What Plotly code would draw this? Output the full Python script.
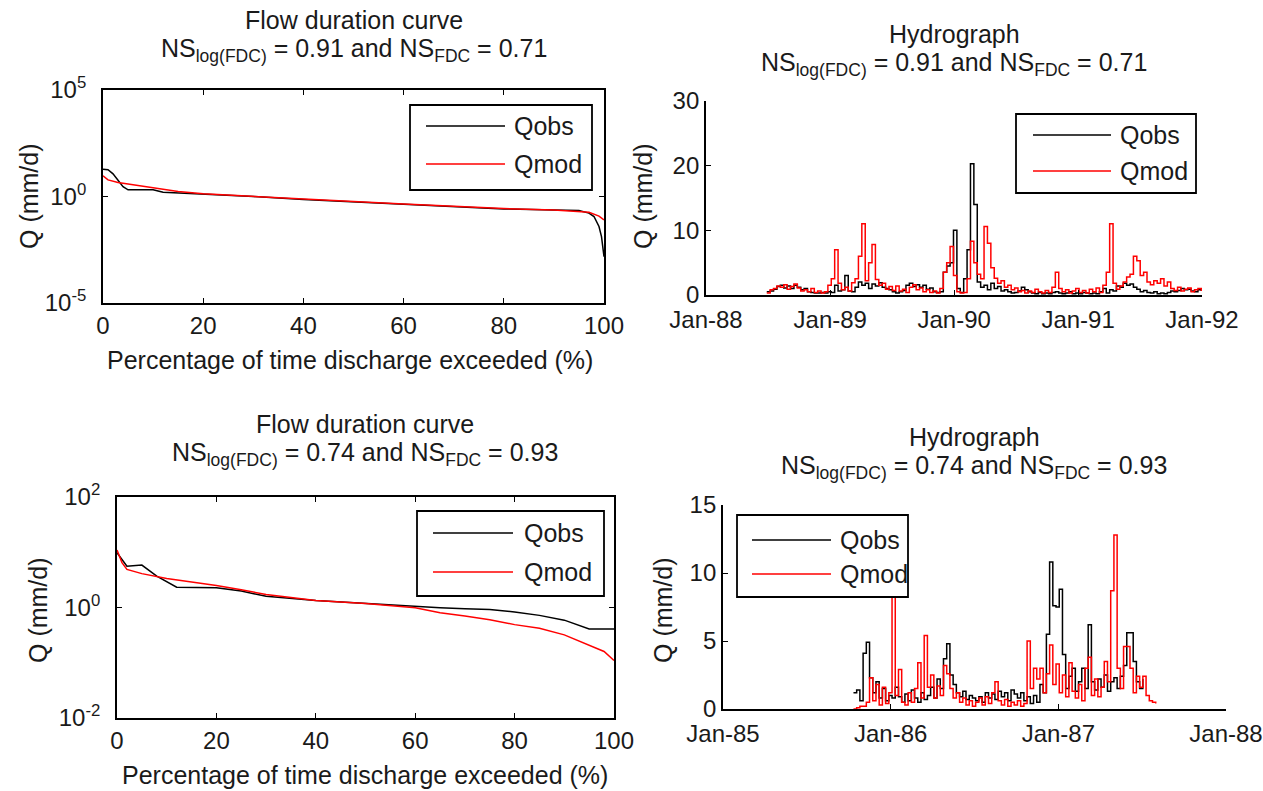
import plotly.graph_objects as go
import pandas as pd

W, H = 1263, 791
FONT = "Liberation Sans, Arial, sans-serif"
FS = 25      # titles, labels, legend
FST = 24     # tick labels
TXT = "#1a1a1a"

# ---------------- data ----------------
# Flow duration curve 1 (percent exceeded, Q mm/d)
fdc1_obs_pct = [0, 1, 2, 3, 4, 5, 10, 12, 20, 30, 40, 50, 60, 70, 80, 90, 95, 97, 98, 99, 99.5, 100]
fdc1_obs_q = [19, 18, 11.6, 6, 2.9, 2.05, 2.05, 1.6, 1.33, 1.0, 0.72, 0.56, 0.42, 0.34, 0.26, 0.23, 0.22, 0.166, 0.115, 0.039, 0.013, 0.0015]
fdc1_mod_pct = [0, 1, 3, 5, 8, 10, 15, 20, 30, 40, 50, 60, 70, 80, 90, 95, 97, 99, 100]
fdc1_mod_q = [9.3, 6, 4.5, 3.8, 3.2, 2.5, 1.7, 1.33, 1.0, 0.75, 0.58, 0.45, 0.35, 0.27, 0.23, 0.2, 0.18, 0.12, 0.08]

# Flow duration curve 2
fdc2_obs_pct = [0, 1, 2, 5, 8, 12, 20, 25, 30, 40, 50, 60, 65, 70, 75, 80, 85, 90, 95, 100]
fdc2_obs_q = [9.8, 7.4, 5.6, 5.85, 3.7, 2.33, 2.27, 1.98, 1.6, 1.34, 1.18, 1.06, 0.99, 0.95, 0.92, 0.83, 0.72, 0.59, 0.41, 0.41]
fdc2_mod_pct = [0, 1, 2, 5, 10, 15, 20, 25, 30, 40, 50, 60, 65, 70, 75, 80, 85, 90, 95, 98, 100]
fdc2_mod_q = [11, 6.5, 4.9, 4.1, 3.35, 2.9, 2.5, 2.1, 1.72, 1.34, 1.18, 0.99, 0.8, 0.7, 0.6, 0.49, 0.42, 0.32, 0.21, 0.16, 0.11]

# Hydrograph 1 (10-day values from 1988-06-28)
hyd1_start = "1988-06-28"
hyd1_obs = [0.5, 0.6, 0.9, 1.3, 1.5, 1.1, 1.4, 1.0, 1.5, 1.2,
            0.8, 1.0, 0.5, 0.4, 0.3, 0.3, 0.4, 0.3, 0.5, 0.4,
            1.5, 0.6, 0.8, 3.0, 0.6, 0.5, 1.2, 2.0, 1.5, 1.8,
            1.0, 1.7, 1.4, 1.9, 1.2, 1.0, 0.8, 0.5, 0.3, 0.5,
            0.7, 1.5, 1.8, 1.3, 1.6, 1.2, 1.5, 0.9, 1.1, 0.5,
            0.4, 0.5, 3.5, 4.5, 5.0, 10.0, 1.0, 0.4, 2.5, 7.0,
            20.3, 14.0, 2.0, 1.2, 1.5, 0.8, 1.8, 1.0, 1.3, 0.6,
            0.8, 0.5, 0.3, 0.4, 0.6, 1.2, 0.8, 0.5, 0.3, 0.2,
            0.4, 0.2, 0.3, 0.2, 0.4, 0.5, 0.3, 0.2, 0.3, 0.5,
            0.2, 0.3, 0.2, 0.4, 0.3, 0.2, 0.3, 0.2, 0.5, 1.0,
            0.3, 0.8, 0.6, 1.4, 1.2, 1.8, 1.5, 1.7, 1.2, 0.9,
            0.5, 0.7, 0.4, 0.3, 0.5, 0.2, 0.3, 0.2, 0.4, 0.6,
            0.5, 0.7, 1.0, 0.8, 0.9, 0.6, 0.5, 0.8, 0.6]
hyd1_mod = [0.3, 0.8, 1.0, 1.4, 1.2, 1.6, 0.9, 1.3, 1.7, 1.1,
            0.6, 0.8, 0.5, 1.0, 0.4, 0.6, 0.3, 0.5, 1.5, 2.5,
            7.0, 1.8, 0.8, 1.2, 0.6, 1.9, 2.5, 6.0, 11.0, 2.2,
            5.0, 7.8, 2.4, 1.5, 1.8, 0.9, 1.3, 0.7, 1.4, 0.6,
            0.9, 0.4, 1.2, 1.6, 0.8, 1.1, 0.5, 0.8, 0.4, 0.6,
            0.3, 1.0, 3.5, 5.0, 7.5, 3.0, 0.5, 0.3, 0.4, 2.5,
            8.3, 5.0, 3.2, 2.5, 10.6, 8.0, 4.2, 2.6, 1.8, 2.2,
            1.2, 1.5, 0.8, 1.1, 0.5, 0.7, 0.3, 0.6, 0.4, 0.9,
            0.5, 0.3, 0.7, 0.4, 1.2, 3.5, 1.0, 0.5, 0.8, 0.3,
            0.6, 1.0, 0.4, 0.7, 0.3, 0.9, 0.5, 1.1, 0.4, 1.5,
            3.5, 11.0, 1.8, 0.9, 1.4, 2.0, 2.8, 3.2, 6.0, 5.3,
            3.0, 3.5, 2.0, 1.6, 2.2, 1.8, 2.5, 1.4, 2.0, 1.0,
            0.7, 1.2, 0.6, 0.9, 1.1, 0.5, 0.8, 1.0, 0.6]

# Hydrograph 2 (weekly values from 1985-10-12)
hyd2_start = "1985-10-12"
hyd2_obs = [1.2, 1.4, 0.6, 4.1, 4.9, 2.3, 1.2, 2.0, 0.8, 1.5,
            0.6, 1.0, 0.8, 1.6, 0.9, 0.5, 1.1, 0.6, 1.4, 0.8,
            0.5, 1.2, 0.7, 1.0, 1.6, 0.8, 2.2, 1.5, 3.7, 4.8,
            2.5, 1.8, 1.2, 0.9, 1.3, 0.7, 1.0, 0.8, 0.6, 0.9,
            0.5, 1.2, 0.8, 1.1, 0.7, 1.3, 0.9, 1.2, 0.6, 1.4,
            1.1, 0.8, 1.2, 0.6, 0.9, 0.4, 1.0, 0.5, 1.8, 1.2,
            5.5, 10.8, 7.6, 7.5, 8.8, 4.0, 1.5, 2.4, 3.0, 1.3,
            2.0, 3.0, 1.5, 6.2, 2.0, 1.4, 2.2, 1.6, 2.5, 1.3,
            2.0, 2.3, 1.5, 2.4, 3.2, 5.6, 5.6, 3.5, 2.0, 1.5, 2.2]
hyd2_mod = [0.0, 0.1, 0.2, 0.2, 0.5, 2.3, 0.6, 1.8, 0.3, 1.6,
            0.4, 1.2, 8.3, 1.0, 2.9, 0.5, 0.3, 1.2, 0.5, 1.5,
            3.4, 0.8, 5.4, 1.6, 2.5, 0.8, 1.7, 1.0, 3.2, 2.6,
            1.5, 0.8, 1.2, 0.5, 0.8, 0.3, 0.6, 0.2, 0.5, 0.8,
            0.3, 0.9, 0.4, 1.2, 2.0, 0.6, 0.3, 0.7, 0.2, 0.5,
            0.3, 0.6, 0.2, 0.4, 5.0, 1.5, 3.0, 2.2, 3.0, 1.2,
            2.6, 4.7, 1.8, 3.3, 1.2, 2.5, 0.9, 3.4, 1.3, 0.8,
            1.8, 0.6, 3.0, 3.8, 1.0, 2.2, 0.9, 1.6, 3.5, 2.0,
            8.7, 12.8, 3.0, 1.5, 4.6, 4.6, 3.0, 1.2, 2.4, 1.6,
            2.4, 1.0, 0.6, 0.5, 0.4]

ns_text_top = "NS<sub>log(FDC)</sub> = 0.91 and NS<sub>FDC</sub> = 0.71"
ns_text_bot = "NS<sub>log(FDC)</sub> = 0.74 and NS<sub>FDC</sub> = 0.93"
fdc_xticks = [0, 20, 40, 60, 80, 100]
hyd1_ticks = ["1988-01-01", "1989-01-01", "1990-01-01", "1991-01-01", "1992-01-01"]
hyd1_ticktext = ["Jan-88", "Jan-89", "Jan-90", "Jan-91", "Jan-92"]
hyd2_ticks = ["1985-01-01", "1986-01-01", "1987-01-01", "1988-01-01"]
hyd2_ticktext = ["Jan-85", "Jan-86", "Jan-87", "Jan-88"]

hyd1_dates = pd.date_range(hyd1_start, periods=len(hyd1_obs), freq="10D")
hyd2_dates = pd.date_range(hyd2_start, periods=len(hyd2_mod), freq="7D")

# ---------------- helpers ----------------
def px(x):
    return x / W

def py(y):
    return 1 - y / H

fig = go.Figure()

LW = 1.5
fig.add_trace(go.Scatter(x=fdc1_obs_pct, y=fdc1_obs_q, mode="lines", line=dict(color="black", width=LW),
                         xaxis="x", yaxis="y", showlegend=False))
fig.add_trace(go.Scatter(x=fdc1_mod_pct, y=fdc1_mod_q, mode="lines", line=dict(color="red", width=LW),
                         xaxis="x", yaxis="y", showlegend=False))
fig.add_trace(go.Scatter(x=hyd1_dates, y=hyd1_obs, mode="lines", line=dict(color="black", width=LW, shape="hv"),
                         xaxis="x2", yaxis="y2", showlegend=False))
fig.add_trace(go.Scatter(x=hyd1_dates, y=hyd1_mod, mode="lines", line=dict(color="red", width=LW, shape="hv"),
                         xaxis="x2", yaxis="y2", showlegend=False))
fig.add_trace(go.Scatter(x=fdc2_obs_pct, y=fdc2_obs_q, mode="lines", line=dict(color="black", width=LW),
                         xaxis="x3", yaxis="y3", showlegend=False))
fig.add_trace(go.Scatter(x=fdc2_mod_pct, y=fdc2_mod_q, mode="lines", line=dict(color="red", width=LW),
                         xaxis="x3", yaxis="y3", showlegend=False))
fig.add_trace(go.Scatter(x=hyd2_dates[:len(hyd2_obs)], y=hyd2_obs, mode="lines",
                         line=dict(color="black", width=LW, shape="hv"),
                         xaxis="x4", yaxis="y4", showlegend=False))
fig.add_trace(go.Scatter(x=hyd2_dates, y=hyd2_mod, mode="lines", line=dict(color="red", width=LW, shape="hv"),
                         xaxis="x4", yaxis="y4", showlegend=False))

tickfont = dict(family=FONT, size=FST, color=TXT)
AX = dict(showgrid=False, zeroline=False, showline=True, linecolor="black", linewidth=1.8,
          ticks="inside", ticklen=5, tickcolor="black", tickwidth=1.2, tickfont=tickfont,
          automargin=False)

TL = (103, 604, 90, 303)
TR = (706, 1202, 101, 295)
BL = (117, 614, 497, 718)
BR = (723, 1226, 505, 709)

def dom(b):
    return [px(b[0]), px(b[1])], [py(b[3]), py(b[2])]

d = dom(TL)
fig.update_layout(
    xaxis=dict(AX, domain=d[0], anchor="y", range=[0, 100], tickvals=fdc_xticks, mirror="ticks"),
    yaxis=dict(AX, domain=d[1], anchor="x", type="log", range=[-5, 5], mirror="ticks", ticklabelstandoff=10,
               tickvals=[1e-5, 1, 1e5], ticktext=["10<sup>-5</sup>", "10<sup>0</sup>", "10<sup>5</sup>"]),
)
d = dom(TR)
fig.update_layout(
    xaxis2=dict(AX, domain=d[0], anchor="y2", type="date", range=["1988-01-01", "1992-01-01"],
                tickvals=hyd1_ticks, ticktext=hyd1_ticktext, ticklabelstandoff=2),
    yaxis2=dict(AX, domain=d[1], anchor="x2", range=[0, 30], tickvals=[0, 10, 20, 30]),
)
d = dom(BL)
fig.update_layout(
    xaxis3=dict(AX, domain=d[0], anchor="y3", range=[0, 100], tickvals=fdc_xticks, mirror="ticks"),
    yaxis3=dict(AX, domain=d[1], anchor="x3", type="log", range=[-2, 2], mirror="ticks", ticklabelstandoff=10,
                tickvals=[1e-2, 1, 1e2], ticktext=["10<sup>-2</sup>", "10<sup>0</sup>", "10<sup>2</sup>"]),
)
d = dom(BR)
fig.update_layout(
    xaxis4=dict(AX, domain=d[0], anchor="y4", type="date", range=["1985-01-01", "1988-01-01"],
                tickvals=hyd2_ticks, ticktext=hyd2_ticktext, ticklabelstandoff=2),
    yaxis4=dict(AX, domain=d[1], anchor="x4", range=[0, 15], tickvals=[0, 5, 10, 15]),
)

ann = []
shapes = []

def text(x, y, s, angle=0, xanchor="center", size=FS):
    ann.append(dict(x=px(x), y=py(y), xref="paper", yref="paper", text=s, showarrow=False,
                    xanchor=xanchor, yanchor="middle", textangle=angle,
                    font=dict(family=FONT, size=size, color=TXT)))

# titles
text(354, 20, "Flow duration curve")
text(354, 50, ns_text_top)
text(954, 34, "Hydrograph")
text(954, 64, ns_text_top)
text(365, 424, "Flow duration curve")
text(365, 454, ns_text_bot)
text(974, 437, "Hydrograph")
text(974, 467, ns_text_bot)

# axis labels
text(350, 360, "Percentage of time discharge exceeded (%)")
text(365, 775, "Percentage of time discharge exceeded (%)")
text(29, 196, "Q (mm/d)", angle=-90)
text(643, 196, "Q (mm/d)", angle=-90)
text(38, 610, "Q (mm/d)", angle=-90)
text(663, 610, "Q (mm/d)", angle=-90)

# legends (box, line samples, labels)
def legend(box, x0, x1, yo, ym, tx):
    shapes.append(dict(type="rect", xref="paper", yref="paper", x0=px(box[0]), x1=px(box[1]),
                       y0=py(box[3]), y1=py(box[2]), line=dict(color="black", width=1.8),
                       fillcolor="white", layer="above"))
    shapes.append(dict(type="line", xref="paper", yref="paper", x0=px(x0), x1=px(x1), y0=py(yo), y1=py(yo),
                       line=dict(color="black", width=1.5), layer="above"))
    shapes.append(dict(type="line", xref="paper", yref="paper", x0=px(x0), x1=px(x1), y0=py(ym), y1=py(ym),
                       line=dict(color="red", width=1.5), layer="above"))
    text(tx, yo, "Qobs", xanchor="left")
    text(tx, ym, "Qmod", xanchor="left")

legend((410, 592, 105, 190), 426, 505, 126, 164, 512)
legend((1016, 1196, 114, 193), 1033, 1111, 135, 171, 1118)
legend((417, 604, 511, 596), 433, 513, 533, 572, 522)
legend((737, 908, 515, 597), 752, 831, 540, 574, 838)

fig.update_layout(
    width=W, height=H, margin=dict(l=0, r=0, t=0, b=0),
    paper_bgcolor="white", plot_bgcolor="white",
    annotations=ann, shapes=shapes, showlegend=False,
    font=dict(family=FONT, size=FS, color=TXT),
)

fig.write_html("out.html")
